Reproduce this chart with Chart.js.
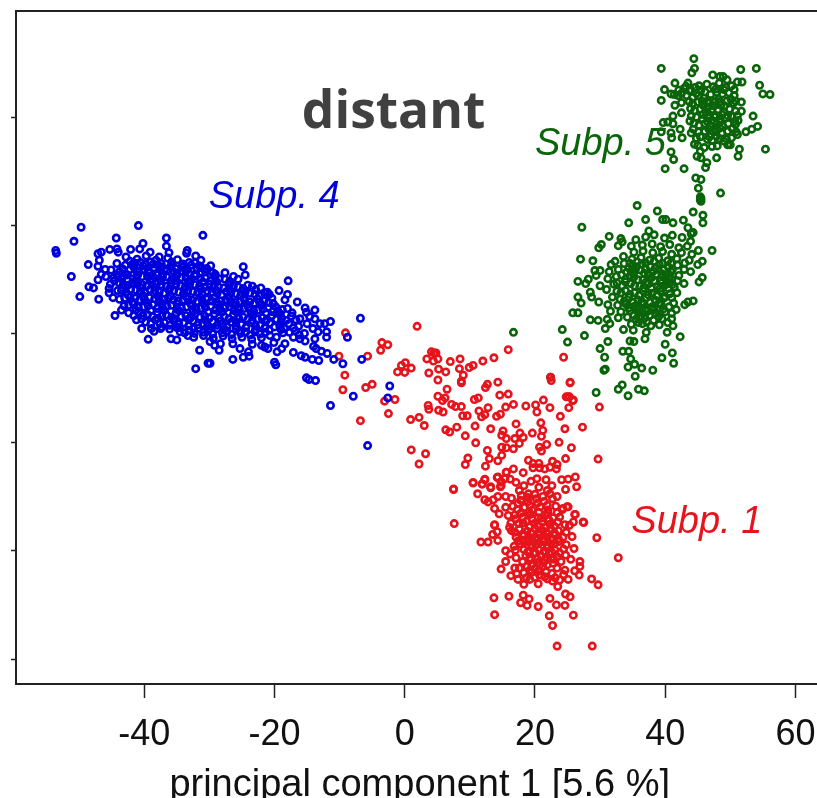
<!doctype html>
<html>

<head>
	<title>PCA scatter</title>
	<script src="https://cdn.jsdelivr.net/npm/chart.js@4"></script>
	<style>
		html, body { margin: 0; padding: 0; background: #fff; overflow: hidden; }
		#box { width: 817px; height: 798px; overflow: hidden; }
	</style>
</head>

<body>
	<div id="box"><canvas id="canvas"></canvas></div>
	<script>
		var xTicks = [-40, -20, 0, 20, 40, 60];
		var yTicks = [-40, -20, 0, 20, 40, 60];
		var xTitle = 'principal component 1 [5.6 %]';

		// [pc1, pc2]
		var subp4 = [
			[-49.7,39.7],[-40.9,40],[-50.8,37.1],[-53.6,35.4],[-53.5,34.9],[-44.3,37.7],[-36.6,37.7],[-31,38.2],[-51.2,30.6],[-49.9,26.9],[-47,26.4],[-48.6,32.8],
			[-48.5,28.7],[-47.8,28.5],[-47.1,30],[-47.1,34.8],[-46.6,35.1],[-46.9,33.6],[-47.1,32.5],[-46,31.9],[-46.6,31],[-45.9,30.6],[-45.4,28.4],[-45.4,27.6],
			[-44.8,26.7],[-44.5,23.4],[-43.5,24.4],[-45.3,35.6],[-44.2,35.7],[-44,35.1],[-42.1,35.6],[-40.2,36.7],[-40.7,35.7],[-39.1,35.1],[-36.6,36.2],[-36.2,35],
			[-37.7,34.2],[-33.4,35.4],[-33.5,34.9],[-32.1,34.4],[-31.3,33.6],[-30.4,31.9],[-39.4,19],[-35.9,19.1],[-40.4,21],[-38.5,20.5],[-37.5,21],[-33.3,19.7],
			[-34.5,20.4],[-31.5,17],[-32.1,13.6],[-30.2,14.6],[-24.8,32.4],[-24.5,30.9],[-17.9,29.8],[-19.3,28],[-18,27.3],[-18.4,26.3],[-22.1,28.5],[-21.1,27.7],
			[-16.5,25.9],[-15.3,24.8],[-15.1,24],[-13.8,24.4],[-14.6,23.2],[-11.4,22.3],[-6.8,22.9],[-8.8,19.4],[-13.8,22.8],[-13,21.9],[-12.3,21.9],[-12,20.4],
			[-12,19.4],[-14.1,21],[-13.3,20.4],[-13.8,19.1],[-15.3,18.7],[-14,17.7],[-13.6,17.3],[-12.8,16.8],[-11.9,16.4],[-17.1,16.6],[-15.9,16],[-15.3,15.7],
			[-14.2,15.3],[-13.2,15.1],[-10.9,15.3],[-9.5,14.5],[-6.6,15.3],[-20,14.8],[-19.8,14.3],[-15.1,11.9],[-14.7,11.6],[-13.7,11.4],[-11.4,6.8],[-7.9,8.5],
			[-2.3,10.4],[-2.6,8.2],[-5.7,-0.6],[-29.9,14.6],[-29.2,17.9],[-28.5,17],[-26.4,15.3],[-24.8,15.7],[-23.9,15.9],[-24,16.7],[-26.4,18.2],[-25.3,17.3],
			[-21.5,17.6],[-22,17.9],[-21,17.3],[-19.6,16.7],[-18.9,17.3],[-18.4,18.2],[-19.7,19.4],[-20.7,19.7],[-17.1,19.4],[-16.1,19.1],
			[-42.8,34.2],[-41.1,33.8],[-39.7,34.4],[-38.2,33.6],[-36.4,34],[-34.9,33.7],[-33.1,33.2],
			[-44.2,33],[-42.9,32.7],[-41.5,33.1],[-40.2,32.6],[-38.6,32.9],[-37.3,32.4],[-35.7,32.8],[-34.2,32.3],[-32.8,32.7],[-31.2,32.2],[-29.8,32.6],
			[-45.1,31.8],[-43.8,31.5],[-42.2,31.9],[-40.9,31.4],[-39.4,31.7],[-37.9,31.3],[-36.5,31.8],[-35,31.2],[-33.6,31.6],[-32.1,31.1],[-30.6,31.5],[-29.1,31],[-27.6,31.3],
			[-44.7,30.4],[-43.2,30.7],[-41.7,30.2],[-40.3,30.6],[-38.8,30.1],[-37.2,30.5],[-35.8,30],[-34.3,30.4],[-32.9,29.9],[-31.4,30.3],[-29.9,29.8],[-28.5,30.2],[-26.9,29.7],[-25.6,30.1],
			[-45.2,29.2],[-43.9,29.5],[-42.5,29],[-41,29.4],[-39.6,28.9],[-38.1,29.3],[-36.6,28.8],[-35.1,29.2],[-33.7,28.7],[-32.2,29.1],[-30.7,28.6],[-29.3,29],[-27.8,28.5],[-26.3,28.9],[-24.8,28.4],[-23.4,28.8],
			[-44.1,28],[-42.8,27.7],[-41.3,28.1],[-39.9,27.6],[-38.4,28],[-37,27.5],[-35.5,27.9],[-34,27.4],[-32.5,27.8],[-31.1,27.3],[-29.6,27.7],[-28.1,27.2],[-26.7,27.6],[-25.2,27.1],[-23.8,27.5],[-22.3,27],[-20.8,27.3],
			[-43.8,26.4],[-42.2,26.8],[-40.7,26.3],[-39.2,26.7],[-37.7,26.2],[-36.3,26.6],[-34.8,26.1],[-33.3,26.5],[-31.9,26],[-30.4,26.4],[-29,25.9],[-27.5,26.3],[-26,25.8],[-24.6,26.2],[-23.1,25.7],[-21.6,26.1],[-20.2,25.6],
			[-43.1,25.2],[-41.6,25.5],[-40.1,25],[-38.7,25.4],[-37.2,24.9],[-35.8,25.3],[-34.3,24.8],[-32.7,25.2],[-31.3,24.7],[-29.8,25.1],[-28.4,24.6],[-26.9,25],[-25.4,24.5],[-24,24.9],[-22.5,24.4],[-21,24.8],[-19.5,24.3],[-18,24.7],
			[-42.4,23.9],[-40.9,24.1],[-39.5,23.6],[-38,24],[-36.6,23.5],[-35.1,23.9],[-33.6,23.4],[-32.2,23.8],[-30.7,23.3],[-29.2,23.7],[-27.7,23.2],[-26.3,23.6],[-24.8,23.1],[-23.3,23.5],[-21.9,23],[-20.4,23.4],[-18.9,22.9],[-17.4,23.3],[-16.1,22.8],
			[-41.2,22.6],[-39.8,22.2],[-38.3,22.6],[-36.9,22.1],[-35.4,22.5],[-33.9,22],[-32.5,22.4],[-31,21.9],[-29.5,22.3],[-28,21.8],[-26.6,22.2],[-25.1,21.7],[-23.6,22.1],[-22.2,21.6],[-20.7,22],[-19.2,21.5],[-17.8,21.9],[-16.3,21.4],[-15,21.9],
			[-38.9,21],[-36.1,20.9],[-34.6,21.2],[-33.1,20.7],[-31.7,21.1],[-30.2,20.6],[-28.8,21],[-27.3,20.5],[-25.9,20.9],[-24.4,20.4],[-22.9,20.8],[-21.4,20.3],[-18.7,20.2],[-16.8,20.6],[-15.4,20.1],
			[-32.4,19.4],[-30.9,19.7],[-29.4,19.2],[-27.9,19.6],[-26.5,19.1],[-25,19.4],[-23.5,19],[-22,19.3],[-28.3,18.2],[-23.4,18.1],[-20.1,18.4],[-29.9,18.6],[-35,18.9],
			[-42.2,33.4],[-40.6,33.2],[-39,33.3],[-37.4,33],[-35.8,33.3],[-34.1,32.9],[-32.2,33.1],[-43.3,32],[-41.6,32.3],[-40,31.9],[-38.5,32.2],[-36.9,31.9],[-35.2,32.1],[-33.4,31.9],[-31.9,32],[-30.4,32.1],
			[-44.2,30.9],[-42.6,30.9],[-41,30.9],[-39.5,30.6],[-38,30.9],[-36.5,30.5],[-35,30.8],[-33.6,30.4],[-32.1,30.7],[-30.6,30.3],[-29.1,30.6],[-27.6,30.1],[-26.3,30.6],
			[-44.6,29.8],[-43.2,29.2],[-41.8,29.5],[-40.3,29.1],[-38.9,29.5],[-37.4,29.1],[-35.9,29.4],[-34.4,28.9],[-33,29.3],[-31.5,28.9],[-30,29.2],[-28.6,28.7],[-27,29.1],[-25.6,28.7],[-24.1,29],
			[-43.5,28],[-42.1,28.2],[-40.6,27.8],[-39.1,28.2],[-37.7,27.7],[-36.2,28.1],[-34.7,27.7],[-33.3,28],[-31.8,27.6],[-30.3,27.9],[-28.8,27.5],[-27.4,27.8],[-25.9,27.4],[-24.5,27.7],[-23,27.3],[-21.5,27.6],
			[-43,26.6],[-41.4,26.6],[-40,26.5],[-38.4,26.5],[-37,26.4],[-35.5,26.3],[-34,26.3],[-32.6,26.2],[-31.1,26.2],[-29.7,26.1],[-28.2,26.1],[-26.7,26],[-25.3,26],[-23.8,25.9],[-22.3,25.9],[-20.9,25.8],
			[-42.4,25.3],[-40.9,24.9],[-39.4,25.2],[-38,24.7],[-36.5,25.1],[-35,24.6],[-33.5,25],[-32,24.5],[-30.6,24.9],[-29.1,24.4],[-27.6,24.8],[-26.2,24.3],[-24.7,24.7],[-23.2,24.2],[-21.8,24.6],[-20.3,24.1],[-18.8,24.5],
			[-41.6,23.4],[-40.2,23.4],[-38.7,23.2],[-37.3,23.3],[-35.8,23.1],[-34.3,23.2],[-32.9,23],[-31.4,23.1],[-30,22.9],[-28.5,23],[-27,22.8],[-25.5,22.9],[-24.1,22.7],[-22.6,22.8],[-21.2,22.6],[-19.7,22.7],[-18.2,22.5],[-16.7,22.6],
			[-39,21.9],[-37.6,21.9],[-36.1,21.6],[-34.7,21.8],[-33.2,21.5],[-31.8,21.7],[-30.3,21.4],[-28.8,21.6],[-27.3,21.3],[-25.9,21.5],[-24.4,21.2],[-22.9,21.4],[-21.5,21.1],[-20,21.3],[-18.5,21],[-17.1,21.1],
			[-33.8,20.2],[-32.3,20.1],[-30.9,20.3],[-29.5,20],[-28,20.2],[-26.6,19.9],[-25.2,20.1],[-23.7,19.8],[-22.2,20],[-17.7,20.3],[-16.2,19.8],
			[-41.9,32.8],[-39.8,32.9],[-37.9,32.7],[-36,32.4],[-33.9,32.5],[-31.6,32.6],[-42.9,31.1],[-41.2,31.6],[-39.2,31.2],[-37.2,31.1],[-35.4,31.4],[-33.2,31.2],[-31.4,31.2],[-29.5,31.3],
			[-43.5,30.2],[-41.4,29.8],[-39.1,30],[-37.5,29.8],[-35.3,29.8],[-33.2,29.7],[-31,29.6],[-28.9,29.6],[-26.8,29.4],[-42.9,28.8],[-40.6,28.6],[-38.4,28.6],[-36.1,28.4],[-33.8,28.3],[-31.3,28.3],[-29,28.1],[-26.9,28.2],[-24.9,28],[-22.9,28.2],
			[-42.5,27.2],[-40.2,27.1],[-37.9,27],[-35.9,27],[-33.6,26.9],[-31.4,26.8],[-29.2,26.7],[-27,26.8],[-24.7,26.7],[-22.6,26.5],[-20.4,26.6],[-41.8,25.9],[-39.6,25.8],[-37.3,25.6],[-35,25.6],[-32.9,25.6],[-30.8,25.6],[-28.6,25.5],[-26.4,25.5],[-24.2,25.4],[-22,25.3],[-19.8,25],
			[-41.3,24.4],[-39,24.3],[-36.9,24.3],[-34.7,24.3],[-32.5,24.2],[-30.2,24.1],[-28,24.1],[-25.8,24],[-23.6,23.9],[-21.3,23.9],[-19.1,23.7],[-17.3,23.9],[-40.4,22.8],[-37.9,22.9],[-35.5,22.8],[-33.2,22.7],[-30.7,22.6],[-28.3,22.4],[-25.9,22.3],[-23.4,22.5],[-21.4,22.3],[-19,22.2],[-37.3,21.3],[-35,21.2],[-32.4,21],[-30,21],[-27.7,20.9],[-25.4,20.6],[-23,20.4],[-20.8,20.7],[-19,20.8]
		];

		var subp1 = [
			[1.9,21.4],[-9.1,20.2],[-3.5,18.4],[-2.6,18],[-3.7,17],[-10.1,15.9],[-5.7,15.9],[-9.2,12.4],[-9.5,9.7],[-6,10.1],[-5,10.7],[-6.8,4],[-3.1,7.6],[-1.5,7.9],[-2.5,5.3],
			[-0.5,14.2],[0.1,14.7],[1,13.7],[-1.1,13],[0,12.9],[0.9,4.2],[2.2,4.6],[3,3.1],[1,-1.4],[3.2,-2.1],[2.2,-4],[4.5,16.5],[4.1,16.7],[4.8,16.5],[3.4,15.4],[4.4,15],[5.1,15.4],
			[7,14.9],[8.5,15.4],[8.4,13.6],[5.2,13.5],[6.3,13],[3.7,12.8],[5.1,11.5],[9,12.4],[8.7,11],[8.7,11.3],[9.9,13.8],[10.5,14.2],[12,15],[13.7,15.6],[15.9,17.1],[6.5,9.8],[5.1,8.5],[6.2,8.2],[5.8,7.7],
			[14.3,11.1],[12.7,10.7],[12.4,10.1],[14.6,8.7],[15.9,8.9],[11.3,8.2],[10.7,7.9],[3.6,6.8],[3.7,6.1],[5.2,5.9],[5.9,5.6],[7.2,7],[7.8,6.6],[8.7,6.6],[12.8,6.4],[11.4,5.8],[15.5,6.5],
			[12.3,5.1],[11.8,4.7],[8.9,4.9],[9.6,4.9],[14.1,4.8],[14.7,5.2],[6.3,2.3],[6.9,1.9],[8,2.8],[10.8,3],[13.2,2.5],[9.3,1.2],[10.9,-0.1],[15.1,2.1],[14.9,1.3],[15.6,0.7],
			[12.7,-1.5],[14.9,-0.9],[15.6,-1],[14.9,-2.4],[9.7,-2.9],[9.3,-4.1],[13,-3],[14.3,-3.4],[12.4,-4.4],[15.6,-5.5],[14.3,-6.4],[15.4,-6.7],[12.3,-6.9],[10.5,-7.5],[11.9,-7.7],[13.2,-8.2],[7.5,-8.6],[14.8,-7.3],[14.8,-8],
			[25.4,11],[16.7,7],[18.6,6.7],[20.1,6.9],[20.3,5.6],[21.3,7.8],[22.3,6.4],[24.8,8.4],[25.3,8.4],[25.9,7.8],[25.2,6.4],[23.9,4.8],[17.1,3.4],[20.9,3.6],[21.2,2.2],[19.6,1.7],[21,1.1],[24.6,2.5],[27.3,2.8],
			[17.7,1.7],[18.2,0.9],[16.9,0.7],[17.6,-0.2],[16.7,-1.2],[21.8,-0.4],[20.7,-0.9],[21,-1.6],[23.7,0],[25.6,-1],[24.7,-3],[29.7,-3.1],[19,-3.3],[19.7,-3.9],[20.6,-3.9],[19.7,-4.7],[20.7,-4.7],[21.5,-4.9],[22.3,-4.6],[22.7,-3.5],[23.4,-4.1],[23.3,-4.9],
			[16.7,-4.9],[18.2,-5.6],[20.3,-6.7],[21.7,-6.9],[15.6,-5.5],[24.1,-6.9],[25.1,-6.8],[26.2,-6.4],[26.4,-8.2],[24.7,-8.7],[23.4,-10],[25.1,-11.9],[24.3,-12.2],[23.8,-13.8],[26.1,-13.3],[27.4,-14.7],[25.9,-14.7],[25.3,-15.3],[7.5,-8.7],[7.6,-15],
			[10.5,-7.4],[11.9,-7.7],[12.3,-6.8],[13.2,-8.4],[11.2,-9.5],[12.3,-10.6],[12.8,-11],[14.3,-10],[13.6,-10.6],[14.2,-6.5],[14.8,-7.3],[14.7,-8.2],[15.5,-10],[13.8,-12.2],[14.5,-13.2],[15.5,-12],[15.9,-13.5],[13.8,-15.3],
			[11.7,-18.4],[12.8,-18.4],[14.3,-18.1],[14.2,-16.5],[13.5,-17],[13.8,-15.2],[15.5,-20],[14.8,-23.4],[16.9,-23.2],[17.4,-25.3],[18.3,-26.2],[19.2,-25.3],[20.5,-26.1],[21.9,-25.2],[23.5,-26.6],[25.1,-25.3],[26.8,-24.5],[26.9,-22.9],[26.1,-23.7],[26.9,-22],[25.5,-21.6],
			[26,-19.6],[27.5,-14.8],[26.2,-13.3],[24.9,-11.9],[24.2,-12.4],[29.5,-17.6],[32.8,-21.3],[28.7,-25.2],[29.7,-26.3],[13.7,-28.7],[16,-28.4],[18.2,-28.2],[19.1,-28.9],[17.8,-29.6],[18.8,-30.1],[20.5,-30.3],[22.3,-28.8],[23.3,-30],[24.6,-30.1],[24.7,-28],[25.4,-28.5],
			[13.8,-31.8],[22.2,-32],[25.9,-31.9],[22.7,-33.8],[23.4,-37.6],[28.8,-37.6],[24.4,15.7],[22.4,12],[25.4,11.1],[25.1,8.4],[25.8,7.7],[29.9,6.5],[22.5,11.4],
			[16.2,-6.8],[17.1,-7.4],[18.3,-8],[19.4,-7.2],[17.6,-8.9],[19,-9.5],[20.6,-8.3],[21.9,-8.9],[22.6,-8],[16.4,-10.3],[17.8,-10.7],[18.9,-11],[20.2,-10.4],[21.4,-10.9],[22.7,-10.4],[16.6,-11.8],[17.3,-12.4],[18.4,-12],[19.6,-12.5],[20.8,-11.9],[22,-12.5],[23.2,-11.8],
			[16.9,-13.4],[18.1,-13.8],[19.3,-13.3],[20.5,-13.9],[21.6,-13.4],[22.8,-13.9],[16.3,-14.9],[17.5,-15],[18.7,-14.6],[19.9,-15],[21.1,-14.6],[22.3,-15.1],[23.5,-14.7],[24.6,-15.2],
			[16.4,-16.3],[17.6,-16],[18.8,-16.4],[20,-15.9],[21.2,-16.3],[22.4,-15.9],[23.6,-16.3],[24.8,-16.6],[25.7,-17.4],[17.1,-17.5],[18.3,-17.2],[19.5,-17.6],[20.7,-17.1],[21.9,-17.5],[23.1,-17.1],[24.3,-17.5],
			[17.7,-18.7],[18.9,-18.3],[20.1,-18.8],[21.3,-18.3],[22.5,-18.7],[23.7,-18.3],[24.8,-18.9],[16.8,-19.2],[18.3,-19.8],[19.5,-19.4],[20.7,-19.9],[21.9,-19.5],[23.1,-19.9],[24.4,-19.7],[16.2,-20.6],[17.1,-21.3],
			[18.6,-20.9],[19.8,-20.5],[21,-21],[22.2,-20.6],[23.4,-21.1],[24.7,-20.8],[18.1,-22],[19.3,-21.7],[20.4,-22.2],[21.6,-21.8],[22.8,-22.3],[24,-22],[17.6,-23.2],[18.8,-22.9],[20,-23.3],[21.2,-22.9],[23.4,-23.2],[24.6,-23.6],
			[18.3,-24.1],[19.5,-24],[20.7,-24.5],[22.6,-24.2],[23.1,-25],[23.8,-25.4],[16.1,-15.7],[15.5,-22],[16.3,-24.6],
			[19.2,-15.6],[20.4,-15.4],[21.7,-15.7],[23,-15.5],[18.2,-16.9],[19.4,-16.7],[20.6,-16.6],[21.8,-16.8],[23,-16.7],[18.9,-17.8],[20.1,-17.5],[21.3,-17.8],[22.5,-17.9],[23.6,-17.8],
			[18.3,-18.4],[19.5,-18.9],[20.7,-18.5],[21.9,-19],[23.1,-18.6],[18.9,-20.2],[20.1,-20.4],[21.4,-20.1],[22.6,-20.3],[23.8,-20.4],[19.2,-21.3],[20.4,-21.5],[21.7,-21.2],[22.9,-21.6],[19.5,-22.6],[20.7,-22.7],[21.9,-22.6],[19.2,-23.6],[20.5,-23.8],[21.7,-23.9],
			[17.9,-9.8],[18.9,-10.2],[20,-9.6],[21.2,-10],[22.3,-9.5],[17.4,-11.3],[19.2,-11.6],[20.4,-11.2],[21.9,-11.6],[17.8,-13.1],[19.1,-12.8],[20.6,-12.9],[22,-13.1],[23.4,-13],[17.1,-14.1],[18.2,-14.9],[19.6,-14.2],[21,-14],[22.2,-14.4],
			[17.2,-24.2],[18.7,-25],[20,-24.9],[21.5,-24.8],[22.7,-25.6],[24.4,-24.4],[17,-19.9],[17.4,-18.2],[16.9,-16.6]
		];

		var subp5 = [
			[35.7,43.7],[38.8,42.7],[34.4,40.5],[37,41.1],[27.2,39.7],[39.6,41.1],[40.1,41.1],[41.2,40.5],[42.8,41],[44.3,42.5],[45.5,45],[45.5,44.5],[45.8,41.9],[45.8,40.5],[43.5,39.6],[44,38.5],[44.3,38.7],[37.5,39],[31.4,38],[30.2,36.5],[29.8,35.9],
			[33.2,37.6],[33.4,37],[32.8,36.3],[34.8,36.2],[47.2,35.4],[45.1,35.4],[45.7,33.4],[45,32.8],[43.9,31.5],[45.7,30.4],[45.2,29.6],[42.9,29.3],[27,33.8],[28.9,33.5],[31.7,32.8],[29.2,31.7],[30,31.7],[29.4,30.8],[28.2,30.1],[26.6,29.7],[27.8,29.3],[30,28.9],
			[28.5,27.7],[28.7,26.8],[26.6,26.8],[27.1,25.7],[29.8,25.9],[25.8,23.9],[26.6,23.9],[44.3,26.1],[43.5,25.9],[43,25.4],[41.3,25.7],[28.5,22.6],[29.7,22.5],[31.1,22.7],[31.5,21.9],[24.2,20.8],[25,18.5],[27.6,19.7],[30.8,21],[33.6,20.8],[35.1,20.7],
			[31.2,18.6],[30,17.3],[30.7,15.7],[30.6,13.3],[30.8,13.5],[36.9,19.1],[37.1,20.3],[34.6,18.7],[35.2,18.6],[33.5,16.8],[34.4,16.8],[34.7,15.4],[34.3,13.9],[35.3,14.4],[36.4,13.7],[38.1,13.3],[35.4,12.2],[39.5,15.6],[40,18.1],[40.3,20.3],[42.3,19.5],[41.1,16.5],[41.3,14.6],[41.2,21.5],[41,22.8],
			[29.4,9.2],[32.8,9.8],[33.4,10.6],[35.9,9.8],[36.8,9.5],[34.3,8.6],[22.4,12],[16.7,20.3],
			[35.5,37.4],[37,37.9],[38.3,38.3],[39.9,37.7],[41.1,38.2],[42.6,37.8],[43.9,37.1],[36.5,36.4],[38,36.6],[39.3,36.1],[40.7,36.5],[42.1,35.9],[43.4,36.2],[44.1,34.7],[35.2,35.1],[36.6,35.3],[38.1,35],[39.6,35.2],[41,34.7],[42.5,35],[43.7,33.6],
			[33.6,34.3],[34.9,33.8],[36.3,34.1],[37.6,33.6],[39,34],[40.4,33.5],[41.8,33.9],[43,33.1],[32.3,33.4],[33.7,33],[35,32.6],[36.4,32.9],[37.7,32.4],[39.1,32.8],[40.5,32.3],[41.9,32.7],[42.9,31.9],
			[31.4,31.5],[32.8,31.9],[34.1,31.4],[35.4,31.7],[36.8,31.2],[38.2,31.6],[39.5,31.1],[40.9,31.5],[42.1,30.8],[31.2,30.2],[32.5,30.6],[33.9,30.1],[35.2,30.5],[36.6,30],[37.9,30.4],[39.3,29.9],[40.6,30.3],[41.9,29.8],
			[32.1,29.2],[33.4,28.9],[34.7,29.3],[36.1,28.8],[37.4,29.2],[38.8,28.7],[40.1,29.1],[41.4,28.6],[31,28.2],[32.6,27.9],[33.9,28],[35.3,27.6],[36.6,28],[38,27.5],[39.3,27.9],[40.7,27.4],[41.8,27.6],
			[31.9,26.8],[33.1,26.4],[34.4,26.8],[35.8,26.3],[37.1,26.7],[38.5,26.2],[39.8,26.6],[41,26.7],[31.2,25.4],[32.7,25.3],[34,25.5],[35.3,25.1],[36.7,25.5],[38,25],[39.4,25.4],[40.6,25],[41.7,24.5],
			[31.6,24.2],[33.2,24.1],[34.6,24.3],[35.9,23.9],[37.3,24.2],[38.6,23.8],[40,24.1],[41,23.8],[32.8,23],[34.2,23.1],[35.5,22.7],[36.9,23],[38.2,22.5],[39.5,22.8],[40.4,22.1],[34.8,21.8],[36.5,21.9],[37.8,21.5],[39.1,21.7],
			[35.1,31.2],[36.2,31.8],[37.4,30.9],[38.6,31],[39.7,30.6],[34.6,30.7],[35.8,30],[37.1,29.6],[38.3,29.8],[39.5,29.4],[40.7,29.5],[33.9,29.6],[35.3,28.9],[36.7,28.5],[37.9,28.4],[39.2,28.4],[40.5,28.4],[33.2,27.6],[34.6,27.3],[36,27.1],[37.4,27.2],[38.7,27],[40,26.9],
			[33.7,26],[35.1,25.8],[36.4,25.9],[37.7,25.8],[39,25.6],[34.4,24.8],[35.7,24.6],[37,24.7],[38.3,24.5],[39.7,24.6],[35.2,23.4],[36.3,23.3],[37.6,23.4],[39,23.2],[35.9,22.1],[37.2,22.2],
			[34.6,33],[35.7,33.3],[37,33.1],[38.3,33.4],[39.6,33],[40.9,33.1],[34.4,32.2],[35.6,32.4],[37,32],[38.5,32.2],[39.8,31.8],[41.1,31.9],[33.3,30.9],[34.8,31.5],[40.2,30.9],[41,30.1],[32.6,29.4],[41.1,29.1],
			[44.4,70.8],[39.4,69],[44.5,69],[44.1,68.2],[51.6,68.8],[54,69],[54.5,65.9],[55,64.3],[56.1,64.2],[51.8,66.5],[51.1,66.5],[39.9,65.1],[39.4,63.1],[41.5,66.3],[43.5,66.3],[47.3,67.8],[48.4,67.5],[48.9,67.5],[49.5,66.9],
			[40.9,64.3],[41.4,64.2],[42,64],[41.5,62.2],[42.5,62.7],[42.5,60.8],[41.2,60.2],[39.7,59],[40.4,59.1],[41.2,58.8],[39.4,57.3],[40.9,57.1],[42.3,57.8],[41,56.2],[42.6,56.2],[44,57.1],[40.9,53.6],[41.3,52.2],[40,50.5],[42.9,50.5],
			[44.5,55],[45,54.8],[48,54.7],[47.9,52.5],[44.9,52.8],[45.5,52.5],[46.4,51.6],[46.2,50.7],[44.7,48.8],[45.5,48.5],[45.1,46.9],[48.5,46],[45.4,45.3],[45.4,44.7],[51.4,54.1],[51.2,52.8],[55.4,54.1],[49.6,54.9],[51.1,56.8],[52.4,57.3],[53.3,57.8],[54.2,58.3],[53.5,60.2],[51.7,62.8],[51.7,61.1],[51.2,59.4],[50.8,58.7],
			[42.9,65.3],[43.7,64.9],[44.6,65.5],[45.5,65],[46.4,66.1],[47.4,65.6],[48.3,66.3],[49.3,65.5],[50.2,65.8],[43.3,64],[44.2,63.6],[45.1,64],[46,63.5],[47,64.2],[47.9,64.6],[48.8,64.3],[49.8,64.5],[50.6,64],
			[44.2,62.5],[45,62.8],[45.9,62.1],[46.8,62.6],[47.7,62.9],[48.6,62.3],[49.5,63],[50.5,62.6],[44.5,61.2],[45.4,61.5],[46.3,60.9],[47.2,61.4],[48.1,61.2],[49,60.9],[49.9,61.5],[50.8,61.1],
			[44.8,60],[45.7,59.7],[46.6,59.9],[47.5,60.1],[48.4,59.6],[49.3,59.9],[50.2,60.2],[44.4,58.9],[45.2,58.5],[46.1,58.8],[47,58.4],[47.9,58.8],[48.8,58.4],[49.7,58.8],[50.3,57.9],
			[45.1,57.3],[46.1,57.4],[47,56.9],[47.8,57.3],[48.7,57.1],[49.6,57.4],[44.8,56.1],[46.5,55.9],[47.2,55.7],[48.4,56],[49.4,56],[50.2,56.2],[46,54.4],[45.4,53.7],[49,55.6],
			[45.7,62.9],[46.5,61.7],[47.4,62.1],[48.2,63.3],[49.1,62.1],[45.8,60.5],[46.8,60.4],[47.8,60.3],[48.7,60.5],[49.6,60.3],[46.5,59.2],[47.5,59.2],[48.4,59.1],[46.7,57.8],[47.6,57.9],[48.4,58],[46.8,56.4],[47.9,56.5],
			[42.1,65],[42.5,64.4],[43.2,65.7],[44,65],[45.2,65.8],[46.1,64.7],[47.8,65.2],[49,65.1],[50.6,65.1],[43.7,62.9],[44.8,64.4],[46.5,63],[48.3,62.8],[50.1,63.3],[44,60.2],[43.8,59.3],[43.9,61.6],[51.1,60.3],[50.7,59.2],[50.9,57.3],[44.3,57.8],[50.8,63],[45.4,56.4],[47.2,54.6],[50,54.9]
		];

		// free text, [label, pc1, pc2, font, colour]
		var notes = [
			['distant', -15.8, 58.1, 'bold 51.5px "Open Sans"', '#404040'],
			['Subp. 4', -30.1, 43.2, 'italic 38px "Liberation Sans"', '#0000dc'],
			['Subp. 5', 20, 53, 'italic 38px "Liberation Sans"', '#0a640a'],
			['Subp. 1', 34.8, -16.8, 'italic 38px "Liberation Sans"', '#e6141c']
		];

		var notesPlugin = {
			id: 'notes',
			afterDraw: function(chart) {
				var ctx = chart.ctx;
				var a = chart.chartArea;
				ctx.save();
				ctx.strokeStyle = '#222';
				ctx.lineWidth = 2;
				ctx.beginPath();
				ctx.moveTo(a.left, a.top);
				ctx.lineTo(a.right, a.top);
				ctx.stroke();
				ctx.textBaseline = 'alphabetic';
				notes.forEach(function(n) {
					ctx.font = n[3];
					ctx.fillStyle = n[4];
					ctx.fillText(n[0], chart.scales.x.getPixelForValue(n[1]), chart.scales.y.getPixelForValue(n[2]));
				});
				ctx.restore();
			}
		};

		function series(label, rows, color) {
			return {
				label: label,
				data: rows.map(function(p) { return { x: p[0], y: p[1] }; }),
				borderColor: color,
				backgroundColor: 'transparent',
				pointRadius: 3.2,
				pointBorderWidth: 2.6,
				showLine: false
			};
		}

		var config = {
			type: 'scatter',
			data: {
				datasets: [
					series('Subp. 4', subp4, '#0000dc'),
					series('Subp. 1', subp1, '#e6141c'),
					series('Subp. 5', subp5, '#0a640a')
				]
			},
			options: {
				responsive: false,
				animation: false,
				layout: { padding: { top: 11, left: 0, right: 0, bottom: 0 } },
				plugins: { legend: { display: false }, tooltip: { enabled: false } },
				scales: {
					x: {
						type: 'linear',
						min: -59.7,
						max: 64.3,
						afterBuildTicks: function(axis) {
							axis.ticks = xTicks.map(function(v) { return { value: v }; });
						},
						afterFit: function(axis) {
							axis.height = 114;
							axis.paddingLeft = 0;
							axis.paddingRight = 0;
						},
						grid: { drawOnChartArea: false, tickLength: 14, tickWidth: 1.5, tickColor: '#222' },
						border: { color: '#222', width: 2 },
						ticks: {
							padding: 15,
							maxRotation: 0,
							autoSkip: false,
							color: '#111',
							font: { family: '"Liberation Sans"', size: 36 }
						},
						title: {
							display: true,
							text: xTitle,
							color: '#111',
							padding: { top: 0, bottom: -10 },
							font: { family: '"Liberation Sans"', size: 38 }
						}
					},
					y: {
						type: 'linear',
						min: -44.6,
						max: 79.6,
						afterBuildTicks: function(axis) {
							axis.ticks = yTicks.map(function(v) { return { value: v }; });
						},
						afterFit: function(axis) { axis.width = 16; },
						grid: { drawOnChartArea: false, tickLength: 5, tickWidth: 1.5, tickColor: '#222' },
						border: { color: '#222', width: 2 },
						ticks: { padding: 0, callback: function() { return ''; } }
					}
				}
			},
			plugins: [notesPlugin]
		};

		// the frame runs past the right edge of the window, as in the picture
		var canvas = document.getElementById('canvas');
		canvas.width = 830;
		canvas.height = 798;
		window.myChart = new Chart(canvas, config);
	</script>
</body>

</html>
